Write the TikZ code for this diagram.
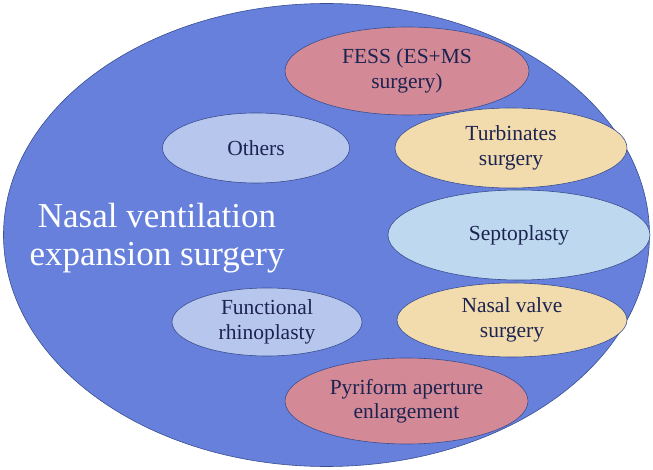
\documentclass[tikz,border=0pt]{standalone}
\usepackage{fontspec}
\setmainfont{Liberation Serif}
\usetikzlibrary{shapes.geometric}

\definecolor{outerblue}{HTML}{6680DC}
\definecolor{edgeblue}{HTML}{3A4F8F}
\definecolor{inkblue}{HTML}{1C2350}
\definecolor{rosefill}{HTML}{D48A96}
\definecolor{sandfill}{HTML}{F2DCAE}
\definecolor{skyfill}{HTML}{BDD8EF}
\definecolor{lilacfill}{HTML}{B7C6EC}

\tikzset{bubble/.style={
    	ellipse, draw=edgeblue, line width=0.6pt, inner ysep=0pt, inner xsep=-30pt,
    	text=inkblue, align=center,
    	font=\fontsize{21.5}{24.5}\selectfont
  	}
}

\begin{document}
\begin{tikzpicture}[x=1pt, y=-1pt]
		\useasboundingbox (0,0) rectangle (653,470);
		% outer group
		\node (outer) [ellipse, draw=edgeblue, fill=outerblue, line width=0.6pt,
			minimum width=646pt, minimum height=463pt] at (326.5,235) {};
		\node (title) [text=white, align=center, font=\fontsize{35}{38}\selectfont] at (157,238)
			{Nasal ventilation\\expansion surgery};
		% procedures
		\node (fess) [bubble, fill=rosefill, minimum width=244pt, minimum height=88pt] at (407,71)
			{FESS (ES+MS\\surgery)};
		\node (others) [bubble, fill=lilacfill, minimum width=187pt, minimum height=70pt] at (256,148)
			{Others};
		\node (turb) [bubble, fill=sandfill, minimum width=232pt, minimum height=80pt] at (511,148)
			{Turbinates\\surgery};
		\node (septo) [bubble, fill=skyfill, minimum width=262pt, minimum height=90pt] at (519,235)
			{Septoplasty};
		\node (func) [bubble, fill=lilacfill, minimum width=190pt, minimum height=68pt] at (267,322)
			{Functional\\rhinoplasty};
		\node (valve) [bubble, fill=sandfill, minimum width=230pt, minimum height=74pt] at (512,320)
			{Nasal valve\\surgery};
		\node (pyri) [bubble, fill=rosefill, minimum width=243pt, minimum height=86pt] at (406.5,401)
			{Pyriform aperture\\enlargement};
	\end{tikzpicture}
\end{document}
